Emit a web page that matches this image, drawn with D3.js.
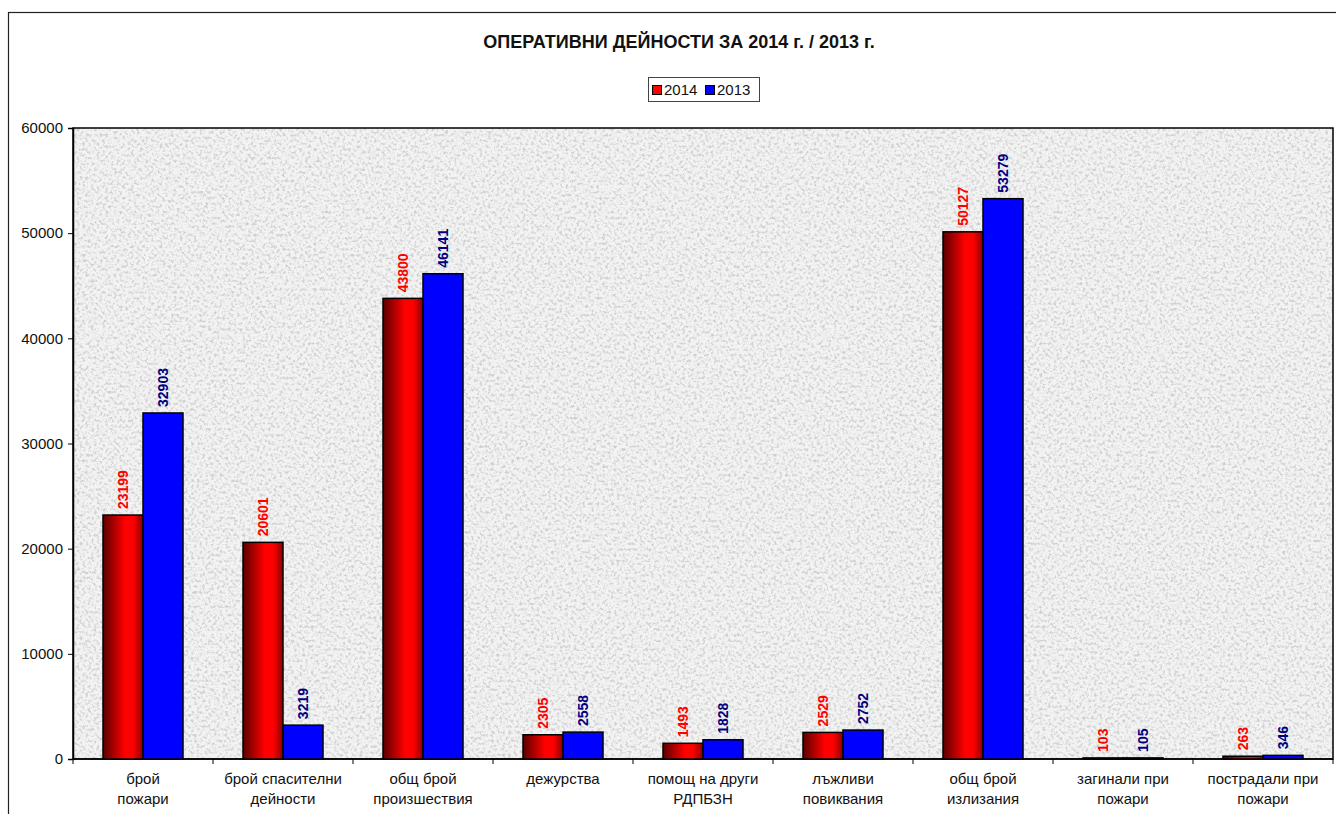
<!DOCTYPE html>
<html><head><meta charset="utf-8">
<script src="https://cdn.jsdelivr.net/npm/d3@7"></script>
<style>body{margin:0;background:#fff}svg{display:block}text{font-family:Arial,"Liberation Sans",sans-serif}</style>
</head><body><svg id="c" width="1336" height="814"></svg>
<script>
const categories = [["брой","пожари"],["брой спасителни","дейности"],["общ брой","произшествия"],["дежурства"],["помощ на други","РДПБЗН"],["лъжливи","повиквания"],["общ брой","излизания"],["загинали при","пожари"],["пострадали при","пожари"]];
const values2014 = [23199,20601,43800,2305,1493,2529,50127,103,263];
const values2013 = [32903,3219,46141,2558,1828,2752,53279,105,346];
const seriesNames = ["2014","2013"];
const yTicks = [0,10000,20000,30000,40000,50000,60000];
const title = "ОПЕРАТИВНИ ДЕЙНОСТИ ЗА 2014 г. / 2013 г.";

const svg = d3.select("#c");
const L=73, R=1333, T=128, B=759;
const defs = svg.append("defs");
const g1 = defs.append("linearGradient").attr("id","redg").attr("x1","0").attr("x2","1").attr("y1","0").attr("y2","0");
[[0,"#5a0000"],[0.55,"#ff0000"],[0.75,"#ff0000"],[1,"#8a0000"]].forEach(s=>g1.append("stop").attr("offset",s[0]).attr("stop-color",s[1]));
const f = defs.append("filter").attr("id","granite").attr("x","0").attr("y","0").attr("width","1").attr("height","1");
f.append("feTurbulence").attr("type","fractalNoise").attr("baseFrequency","0.35").attr("numOctaves","3").attr("seed","7").attr("result","n");
f.append("feColorMatrix").attr("in","n").attr("type","matrix").attr("values","0 0 0 0 0.62  0 0 0 0 0.62  0 0 0 0 0.62  -3.2 0 0 0 1.75").attr("result","m");
f.append("feComposite").attr("in","m").attr("in2","SourceGraphic").attr("operator","over");

// outer border
svg.append("rect").attr("x",8.5).attr("y",12.5).attr("width",1340).attr("height",820).attr("fill","#fff").attr("stroke","#222").attr("stroke-width",1.2);

svg.append("text").attr("x",679).attr("y",48).attr("text-anchor","middle").attr("font-size",18).attr("font-weight","bold").attr("fill","#111").text(title);

// legend
const lg = svg.append("g");
lg.append("rect").attr("x",648.5).attr("y",77.5).attr("width",111).attr("height",24).attr("fill","#fff").attr("stroke","#444");
const lgColors = ["#ff0000","#0000ff"];
seriesNames.forEach((s,i)=>{
  const x0 = 652 + i*53;
  lg.append("rect").attr("x",x0+0.5).attr("y",85.5).attr("width",9).attr("height",9).attr("fill",lgColors[i]).attr("stroke","#000");
  lg.append("text").attr("x",x0+12).attr("y",95).attr("font-size",15).attr("fill","#111").text(s);
});

const x = d3.scaleBand().domain(d3.range(categories.length)).range([L,R]).paddingInner(0).paddingOuter(0);
const y = d3.scaleLinear().domain([0,60000]).range([B,T]);
const xs = d3.scaleBand().domain([0,1]).range([0,x.bandwidth()]).paddingInner(0).paddingOuter(0.75);

// plot area
svg.append("rect").attr("x",L).attr("y",T).attr("width",R-L).attr("height",B-T).attr("fill","#f3f3f3").attr("filter","url(#granite)");
svg.append("rect").attr("x",L).attr("y",T).attr("width",R-L).attr("height",B-T).attr("fill","none").attr("stroke","#000").attr("stroke-width",1.5);

// y axis
const ya = svg.append("g").attr("transform",`translate(${L},0)`).call(d3.axisLeft(y).tickValues(yTicks).tickSize(5).tickFormat(d3.format("d")));
ya.select(".domain").attr("stroke","#000").attr("stroke-width",1.5);
ya.selectAll("text").attr("font-size",15).attr("font-family","Arial").attr("fill","#111").attr("x",-10);

// x axis
const xa = svg.append("g").attr("transform",`translate(0,${B})`);
xa.append("line").attr("x1",L).attr("x2",R).attr("y1",0).attr("y2",0).attr("stroke","#000").attr("stroke-width",1.5);
d3.range(categories.length+1).forEach(i=>{
  const xx = L + i*x.bandwidth();
  xa.append("line").attr("x1",xx).attr("x2",xx).attr("y1",0).attr("y2",5).attr("stroke","#000");
});
categories.forEach((c,i)=>{
  const t = xa.append("text").attr("text-anchor","middle").attr("font-size",15).attr("fill","#111");
  c.forEach((ln,j)=>t.append("tspan").attr("x",x(i)+x.bandwidth()/2).attr("y",25+j*20).text(ln));
});

const series = [values2014, values2013];
const fills = ["url(#redg)","#0000ff"];
const labelColors = ["#ff0000","#000080"];
series.forEach((vals,si)=>{
  const gs = svg.append("g");
  vals.forEach((v,i)=>{
    const bx = x(i)+xs(si);
    gs.append("rect").attr("x",bx).attr("y",y(v)).attr("width",xs.bandwidth()).attr("height",Math.max(B-y(v),1))
      .attr("fill",fills[si]).attr("stroke","#000").attr("stroke-width",1.5);
    gs.append("text").attr("transform",`translate(${bx+xs.bandwidth()/2+5},${y(v)-6}) rotate(-90)`)
      .attr("font-size",14).attr("font-weight","bold").attr("fill",labelColors[si]).text(v);
  });
});
</script></body></html>
